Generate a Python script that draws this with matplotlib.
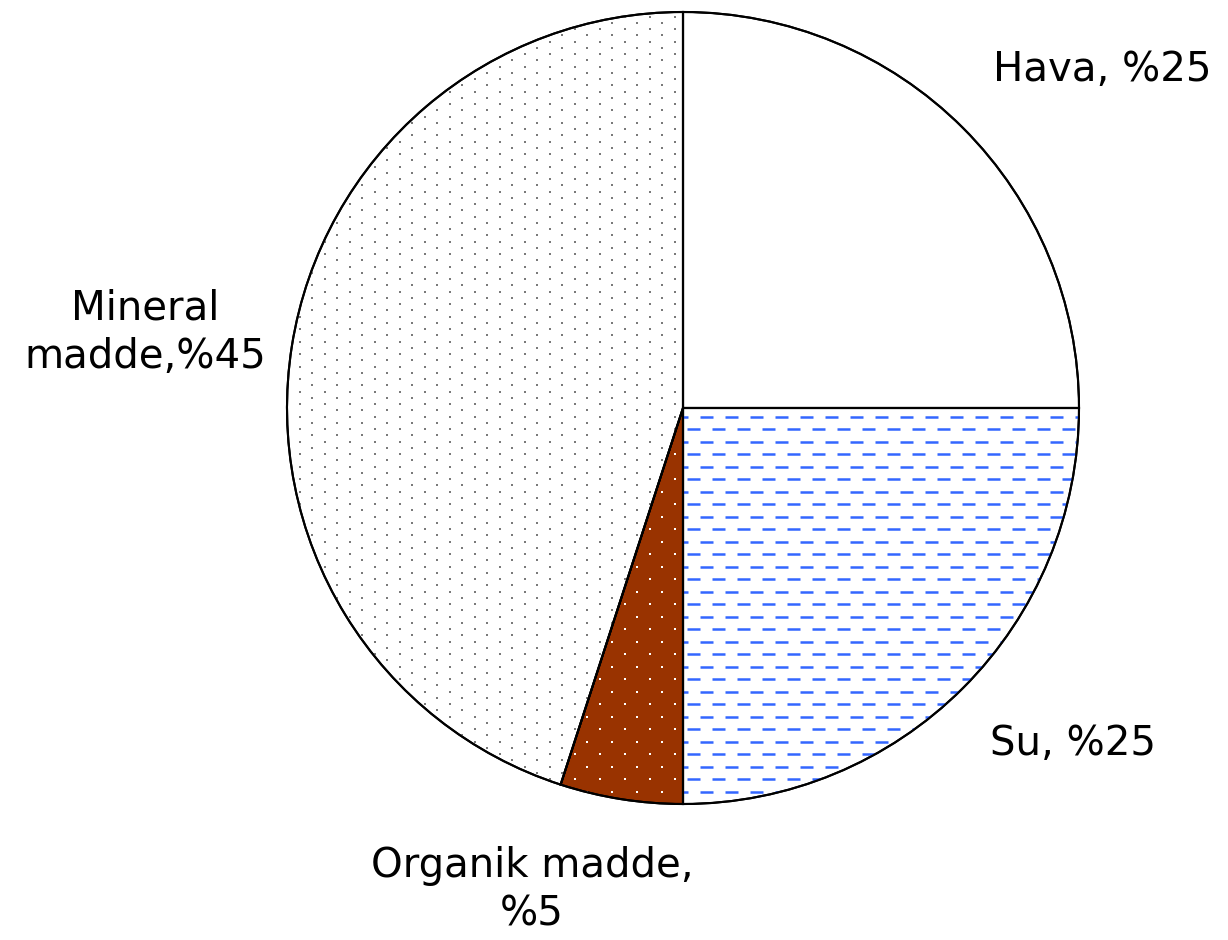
import numpy as np
import matplotlib
matplotlib.use("Agg")
import matplotlib.pyplot as plt
from matplotlib.patches import PathPatch
from matplotlib.collections import LineCollection

# soil composition
labels = ["Hava, %25", "Su, %25", "Organik madde,\n%5", "Mineral\nmadde,%45"]
shares = [25, 25, 5, 45]
face_colors = ["white", "white", "#993300", "white"]

W, H = 1228, 940
cx, cy, r = 683, H - 408, 396

fig = plt.figure(figsize=(W / 100, H / 100), dpi=100)
ax = fig.add_axes([0, 0, 1, 1])

wedges, _ = ax.pie(shares, colors=face_colors, startangle=90, counterclock=False,
                   center=(cx, cy), radius=r,
                   wedgeprops=dict(edgecolor="black", linewidth=1.5))
ax.set_xlim(0, W)
ax.set_ylim(0, H)
ax.set_aspect("equal")
ax.axis("off")


def dot_grid(dx, dy):
    rows = np.arange(cy - r - dy, cy + r + dy, dy)
    xs, ys = [], []
    for i, y in enumerate(rows):
        off = (dx / 2) * (i % 2)
        x = np.arange(cx - r - dx + off, cx + r + dx, dx)
        xs.append(x)
        ys.append(np.full_like(x, y))
    return np.concatenate(xs), np.concatenate(ys)


# Su: blue dashed rows
segs = []
rows = np.arange(cy - r, cy + r + 12.5, 12.5)
for i, y in enumerate(rows):
    off = 12.5 * (i % 2)
    for x in np.arange(cx - r - 25 + off, cx + r + 25, 25):
        segs.append([(x, y), (x + 13, y)])
lc = LineCollection(segs, colors="#3366ff", linewidths=1.8, capstyle="butt")
ax.add_collection(lc)
lc.set_clip_path(wedges[1])

# Organik: white dots on brown
x, y = dot_grid(25, 12.5)
pts, = ax.plot(x, y, "s", color="white", markersize=2.0, markeredgewidth=0)
pts.set_clip_path(wedges[2])

# Mineral: sparse gray dots
x, y = dot_grid(25, 6.25)
pts, = ax.plot(x, y, "s", color="#7a7a7a", markersize=1.6, markeredgewidth=0)
pts.set_clip_path(wedges[3])

# outlines again on top of the patterns
for w in wedges:
    ax.add_patch(PathPatch(w.get_path(), transform=w.get_transform(),
                           fill=False, edgecolor="black", linewidth=1.5, zorder=5))

label_pos = [(1102, 70), (1073, 744), (532, 890), (145, 333)]
for text, (px, py) in zip(labels, label_pos):
    ax.text(px, H - py, text, ha="center", va="center", fontsize=29,
            family="DejaVu Sans", linespacing=1.27, color="black")

fig.savefig("out.png", dpi=100)
